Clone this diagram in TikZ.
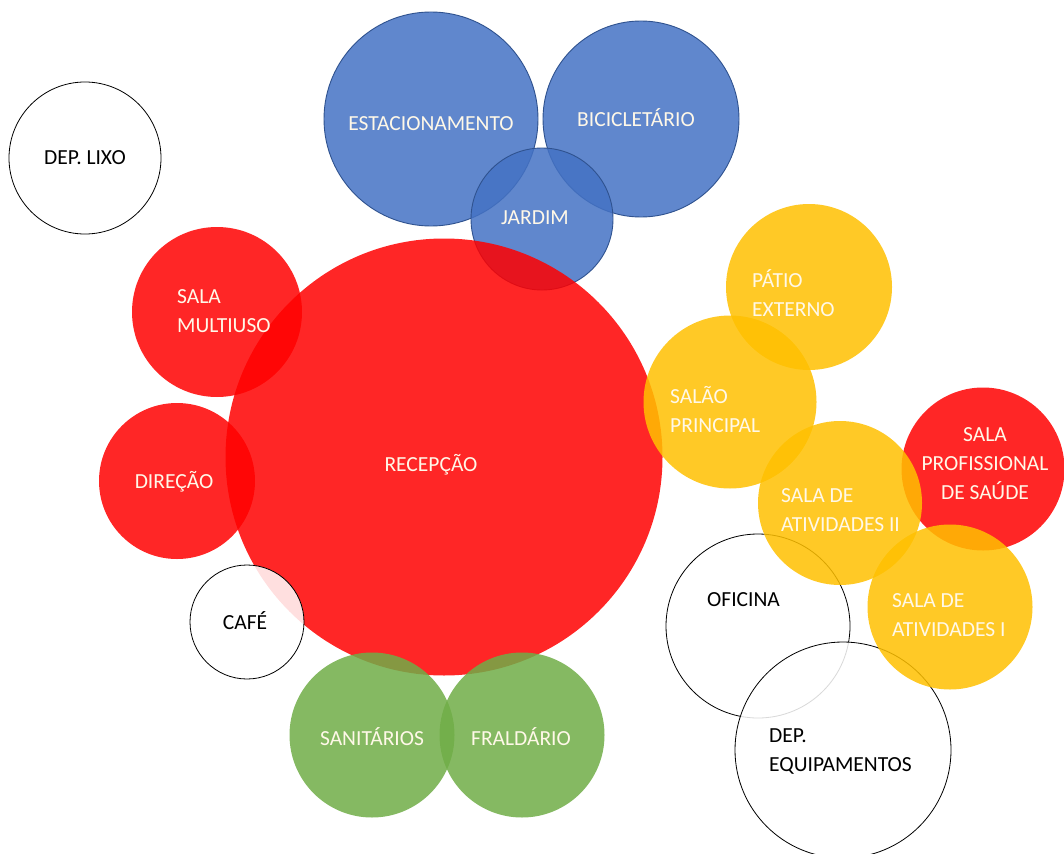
\documentclass[tikz,border=0pt]{standalone}
\usepackage{fontspec}
\setmainfont{Carlito}
\definecolor{cblue}{HTML}{4472C4}
\definecolor{cblueline}{HTML}{2F528F}
\definecolor{cred}{HTML}{FF0000}
\definecolor{cyellow}{HTML}{FFC000}
\definecolor{cgreen}{HTML}{70AD47}
\definecolor{ctext}{HTML}{FFF8E8}
\tikzset{
  bub/.style={circle, inner sep=0pt, minimum size=#1},
  bluebub/.style={bub=#1, fill=cblue, fill opacity=0.85, draw=cblueline, line width=0.9pt},
  redbub/.style={bub=#1, fill=cred, fill opacity=0.85},
  yellowbub/.style={bub=#1, fill=cyellow, fill opacity=0.85},
  greenbub/.style={bub=#1, fill=cgreen, fill opacity=0.85},
  whitebub/.style={bub=#1, fill=white, fill opacity=0.85, draw=black, line width=0.8pt},
  lbl/.style={font=\fontsize{21.5}{29}\selectfont, text=ctext, inner sep=0pt},
  dlbl/.style={font=\fontsize{21.5}{29}\selectfont, text=black, inner sep=0pt},
}
\begin{document}
\begin{tikzpicture}[x=1pt,y=-1pt]
\useasboundingbox (0,0) rectangle (1064,853);
% white / blue
\node[whitebub=152] (lixo) at (85,158) {};
\node[bluebub=214] (estac) at (431,119) {};
\node[bluebub=196] (bici) at (641,119) {};
\node[bluebub=142] (jardim) at (542,219) {};
% reds
\node[redbub=437] (recep) at (444,457) {};
\node[redbub=170] (multi) at (217,312) {};
\node[redbub=156] (direc) at (177,481) {};
\node[whitebub=114] (cafe) at (247,622) {};
\node[greenbub=165] (sanit) at (372,735) {};
\node[greenbub=165] (fral) at (522,735) {};
\node[redbub=163] (profis) at (983,469) {};
\node[whitebub=184] (ofic) at (758,626) {};
\node[whitebub=216] (depeq) at (843,750) {};
% yellows
\node[yellowbub=166] (patio) at (809,287) {};
\node[yellowbub=173] (salao) at (730,402) {};
\node[yellowbub=164] (ativ2) at (840,503) {};
\node[yellowbub=165] (ativ1) at (950,607) {};
% labels
\node[dlbl] (tlixo) at (85,158) {DEP. LIXO};
\node[lbl] (testac) at (431,124) {ESTACIONAMENTO};
\node[lbl] (tbici) at (636,118) {BICICLETÁRIO};
\node[lbl] (tjardim) at (535,218) {JARDIM};
\node[lbl, align=left, anchor=west] (tmulti) at (177,311) {SALA\\MULTIUSO};
\node[lbl] (trecep) at (431,465) {RECEPÇÃO};
\node[lbl] (tdirec) at (174,482) {DIREÇÃO};
\node[dlbl] (tcafe) at (245,621) {CAFÉ};
\node[lbl] (tsanit) at (372,737) {SANITÁRIOS};
\node[lbl] (tfral) at (521,737) {FRALDÁRIO};
\node[lbl, align=left, anchor=west] (tpatio) at (752,293) {PÁTIO\\EXTERNO};
\node[lbl, align=left, anchor=west] (tsalao) at (670,410) {SALÃO\\PRINCIPAL};
\node[lbl, align=left, anchor=west] (tativ2) at (781,510) {SALA DE\\ATIVIDADES II};
\node[lbl, align=center] (tprofis) at (985,464) {SALA\\PROFISSIONAL\\DE SAÚDE};
\node[lbl, align=left, anchor=west] (tativ1) at (892,615) {SALA DE\\ATIVIDADES I};
\node[dlbl, anchor=west] (tofic) at (707,600) {OFICINA};
\node[dlbl, align=left, anchor=west] (tdepeq) at (769,752) {DEP.\\EQUIPAMENTOS};
\end{tikzpicture}
\end{document}
